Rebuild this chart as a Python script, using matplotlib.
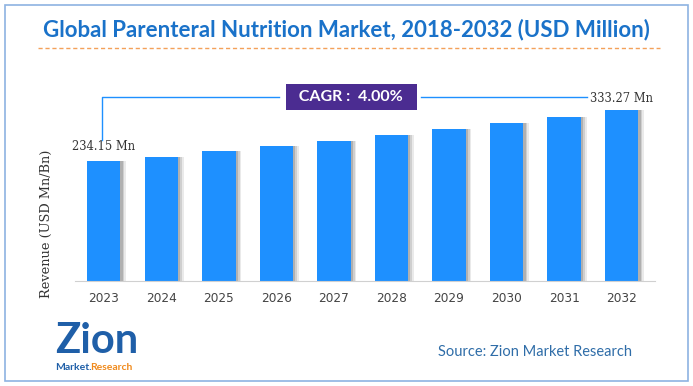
import matplotlib
matplotlib.use("Agg")
import matplotlib.pyplot as plt
from matplotlib.patches import Rectangle
from matplotlib.lines import Line2D

years = ["2023", "2024", "2025", "2026", "2027", "2028", "2029", "2030", "2031", "2032"]
revenue = [234.15, 242.0, 253.5, 263.0, 273.5, 285.0, 296.5, 308.0, 320.0, 333.27]
first_label = "234.15 Mn"
last_label = "333.27 Mn"
cagr_text = "  CAGR :  4.00%  "

title = "Global Parenteral Nutrition Market, 2018-2032 (USD Million)"
source = "Source: Zion Market Research"

bar_color = "#1E90FF"
title_color = "#1A72C9"

fig = plt.figure(figsize=(6.93, 3.86), dpi=100)
ax = fig.add_axes([75 / 693, 1 - 281 / 386, 580 / 693, 205 / 386])

x = list(range(len(years)))
# soft shadow on the right side of bars
for off, a in [(0.10, 0.12), (0.07, 0.18), (0.04, 0.25)]:
    ax.bar([i + off for i in x], revenue, width=0.58, color="#555555", alpha=a, zorder=1)
ax.bar(x, revenue, width=0.58, color=bar_color, zorder=2)

ax.set_xlim(-0.5, 9.58)
ax.set_ylim(0, 400)
ax.set_xticks(x)
ax.set_xticklabels(years, fontsize=8.7, color="#444444", family="DejaVu Sans")
ax.tick_params(axis="x", length=0, pad=8)
ax.set_yticks([])
for s in ["top", "right", "left"]:
    ax.spines[s].set_visible(False)
ax.spines["bottom"].set_color("#d0d0d0")
ax.set_ylabel("Revenue (USD Mn/Bn)", family="DejaVu Serif", fontsize=9.3, color="#333333")
ax.yaxis.set_label_coords(-0.038, 0.278)

# value labels
ax.text(0, 262, first_label, ha="center", va="center", family="DejaVu Serif", fontsize=8.3, color="#333333")
ax.text(9, 357, last_label, ha="center", va="center", family="DejaVu Serif", fontsize=8.3, color="#333333")

# CAGR connector lines
ax.plot([-0.03, -0.03, 3.05], [275, 359, 359], color=bar_color, lw=1, clip_on=False, zorder=3)
ax.plot([5.52, 8.4], [359, 359], color=bar_color, lw=1, clip_on=False, zorder=3)
ax.text(4.3, 359, cagr_text, ha="center", va="center", color="white", fontsize=11.5,
        fontweight="bold", family="Lato", zorder=4,
        bbox=dict(boxstyle="square,pad=0.35", fc="#4B2C91", ec="none"))

# title and dashed rule
fig.text(0.5, 1 - 30 / 386, title, ha="center", va="center", fontsize=16,
         fontweight="bold", color=title_color, family="Lato")
fig.add_artist(Line2D([38 / 693, 660 / 693], [1 - 48 / 386] * 2, color="#F4A15A",
                      lw=1, ls=(0, (3, 2))))

# source and logo
fig.text(632 / 693, 1 - 352 / 386, source, ha="right", va="center", fontsize=10.5,
         color="#2F6DA8", family="Lato")
fig.text(55 / 693, 1 - 341 / 386, "Zion", ha="left", va="center", fontsize=30,
         fontweight="bold", color="#1F5FA8", family="Lato")
fig.text(55 / 693, 1 - 368 / 386, "Market.", ha="left", va="center", fontsize=7.5,
         fontweight="bold", color="#1F5FA8", family="Lato")
fig.text(90 / 693, 1 - 368 / 386, "Research", ha="left", va="center", fontsize=7.5,
         fontweight="bold", color="#F08A1C", family="Lato")

# outer border
fig.add_artist(Rectangle((5 / 693, 5 / 386), 683 / 693, 376 / 386, fill=False,
                         ec="#8DB3E2", lw=1.2, transform=fig.transFigure))

fig.savefig("out.png", dpi=100)
